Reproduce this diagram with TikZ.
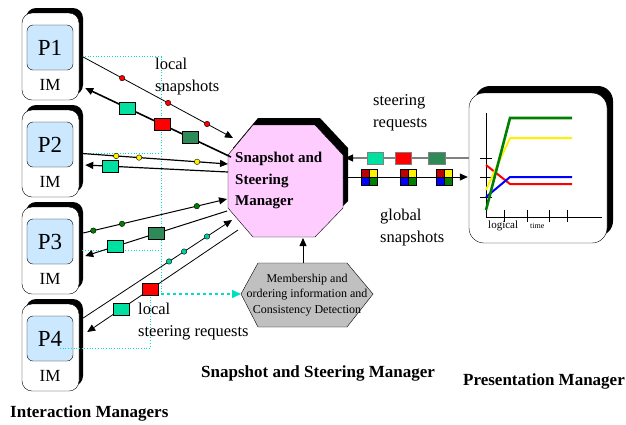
\documentclass[tikz,border=0pt]{standalone}
\usepackage{fontspec}
\setmainfont{Liberation Serif}
\usetikzlibrary{arrows.meta,shadows}

\definecolor{procblue}{RGB}{204,232,255}
\definecolor{ssmpink}{RGB}{255,204,255}
\definecolor{hexgray}{RGB}{192,192,192}
\definecolor{msgteal}{RGB}{0,224,160}
\definecolor{msggreen}{RGB}{46,139,87}
\definecolor{dotgreen}{RGB}{0,128,0}
\definecolor{dotteal}{RGB}{0,208,160}
\definecolor{guidecyan}{RGB}{0,224,192}
\definecolor{snapred}{RGB}{192,0,0}

\tikzset{
  arr/.style={-{Triangle[length=8pt,width=7pt]}},
  imframe/.style={draw, fill=white, rounded corners=10pt, minimum width=57pt,
    minimum height=87pt, inner sep=0pt,
    general shadow={fill=black, shadow xshift=4pt, shadow yshift=5pt}},
  procbox/.style={draw, fill=procblue, rounded corners=6pt, minimum width=46pt,
    minimum height=45pt, inner sep=0pt, font=\fontsize{23}{23}\selectfont},
  imtext/.style={inner sep=0pt, font=\fontsize{17}{17}\selectfont},
  msg/.style={draw, line width=0.5pt, minimum width=16pt, minimum height=12pt, inner sep=0pt},
  sdot/.style={circle, draw, line width=0.4pt, minimum size=5.5pt, inner sep=0pt},
  guide/.style={draw=guidecyan, dotted, line width=0.7pt},
  lbl/.style={font=\fontsize{16.5}{22}\selectfont, align=left, inner sep=0pt, anchor=north west},
  title/.style={font=\bfseries\fontsize{17}{20}\selectfont, inner sep=0pt, anchor=base west},
  gsnap/.pic={
    \draw[fill=snapred, line width=0.4pt] (-8,-8) rectangle (0,0);
    \draw[fill=yellow, line width=0.4pt] (0,-8) rectangle (8,0);
    \draw[fill=blue, line width=0.4pt] (-8,0) rectangle (0,8);
    \draw[fill=dotgreen, line width=0.4pt] (0,0) rectangle (8,8);
  }
}

\begin{document}
\begin{tikzpicture}[x=1pt,y=-1pt]
\useasboundingbox (0,0) rectangle (626,424);

% interaction managers
\foreach \i in {1,...,4} {
  \pgfmathsetmacro\t{13+97*(\i-1)}
  \node[imframe] (im\i) at (50.5,\t+43.5) {};
  \node[procbox] (p\i) at (50,\t+34.5) {P\i};
  \node[imtext] (iml\i) at (50,\t+72) {IM};
}

% snapshot and steering manager
\draw[fill=ssmpink, general shadow={fill=black, shadow xshift=5pt, shadow yshift=7pt}]
  (253,125) -- (315,125) -- (343,155) -- (343,208) -- (315,237) -- (253,237)
  -- (228,208) -- (228,155) -- cycle;
\node[font=\bfseries\fontsize{15}{21.5}\selectfont, align=left, inner sep=0pt,
  anchor=north west] (ssm) at (235,152) {Snapshot and\\Steering\\Manager};

\draw[fill=hexgray] (241,294) -- (258,263) -- (347,263) -- (373,294) -- (347,327)
  -- (258,327) -- cycle;
\node[font=\fontsize{12}{15.5}\selectfont, align=center, inner sep=0pt] (mocd) at (307,295)
  {Membership and\\ordering information and\\Consistency Detection};

% presentation manager
\node[draw, fill=white, rounded corners=15pt, minimum width=138pt, minimum height=150pt,
  general shadow={fill=black, shadow xshift=6pt, shadow yshift=7pt}] (pm) at (538,168) {};
\draw (486,113) -- (486,217) -- (602,217);
\foreach \x in {504,527,549,567} \draw (\x,210) -- (\x,222);
\foreach \y in {158,177,197} \draw (480,\y) -- (492,\y);
\draw[red, line width=2pt] (486,165) -- (510,184) -- (572,184);
\draw[blue, line width=2pt] (486,197) -- (510,177) -- (572,177);
\draw[yellow, line width=2pt] (486,190) -- (510,138) -- (572,138);
\draw[dotgreen, line width=2.6pt] (486,210) -- (510,118) -- (572,118);
\node[font=\fontsize{11}{11}\selectfont, inner sep=0pt, anchor=base west] (logl) at (488,228) {logical};
\node[font=\fontsize{8}{8}\selectfont, inner sep=0pt, anchor=base west] (timel) at (530,228) {time};

% ends at the manager
\coordinate (snap1) at (233,138);
\coordinate (steer1) at (231,157);
\coordinate (snap2) at (228,164);
\coordinate (steer2) at (228,172);
\coordinate (snap3) at (227,199);
\coordinate (steer3) at (227,211);
\coordinate (snap4) at (232,220);
\coordinate (steer4) at (238,230);
\coordinate (srin) at (345,158);
\coordinate (gsout) at (343,177);
\coordinate (octbot) at (303,238);
\coordinate (hextop) at (303,263);
\coordinate (hexleft) at (241,294);
\coordinate (gcorner) at (161,294);

% guide lines
\draw[guide] ([xshift=3pt]im1.east) -| (gcorner);
\draw[guide] ([xshift=3pt]im2.east) -- (im2.east -| gcorner);
\draw[guide] ([xshift=3pt]im3.east) -- (im3.east -| gcorner);
\draw[draw=guidecyan, dashed, line width=1.2pt, -{Triangle[length=9pt,width=8pt]}] (gcorner) -- (hexleft);

% local snapshots and steering requests
\draw[arr, line width=0.8pt] ([xshift=3pt]im1.east) -- (snap1)
  node[sdot, fill=red, pos=.265] (r1) {}
  node[sdot, fill=red, pos=.57] (r2) {}
  node[sdot, fill=red, pos=.828] (r3) {};
\draw[arr, line width=1.6pt] (steer1) -- ([shift={(6,31.5)}]im1.east)
  node[msg, fill=msggreen, pos=.281] (s13) {}
  node[msg, fill=red, pos=.473] (s12) {}
  node[msg, fill=msgteal, pos=.712] (s11) {};
\draw[arr, line width=1.2pt] ([xshift=3pt]im2.east) -- (snap2)
  node[sdot, fill=yellow, pos=.233] (y1) {}
  node[sdot, fill=yellow, pos=.39] (y2) {}
  node[sdot, fill=yellow, pos=.788] (y3) {};
\draw[arr, line width=1.2pt] (steer2) -- ([shift={(6,11.5)}]im2.east)
  node[msg, fill=msgteal, pos=.825] (s21) {};
\draw[arr, line width=1pt] ([shift={(4,-17.5)}]im3.east) -- (snap3)
  node[sdot, fill=dotgreen, pos=.07] (g1) {}
  node[sdot, fill=dotgreen, pos=.27] (g2) {}
  node[sdot, fill=dotgreen, pos=.79] (g3) {};
\draw[arr, line width=1pt] (steer3) -- ([shift={(6,5.5)}]im3.east)
  node[msg, fill=msggreen, pos=.5] (s32) {}
  node[msg, fill=msgteal, pos=.79] (s31) {};
\draw[arr, line width=0.8pt] ([shift={(4,-29.5)}]im4.east) -- (snap4)
  node[sdot, fill=dotteal, pos=.577] (t1) {}
  node[sdot, fill=dotteal, pos=.678] (t2) {}
  node[sdot, fill=dotteal, pos=.832] (t3) {};
\draw[arr, line width=0.8pt] (steer4) -- ([shift={(8,-15.5)}]im4.east)
  node[msg, fill=red, pos=.583] (s41) {}
  node[msg, fill=msgteal, pos=.775] (s42) {};
\draw[guide] ([shift={(10,9.5)}]p4.center) -| (s41.south);

% to and from the presentation manager
\draw[gray, line width=1.2pt, -{Triangle[length=8pt,width=7pt,color=black]}]
  ([shift={(0,-10)}]pm.west) -- (srin)
  node[msg, fill=msggreen, minimum width=17pt, pos=.258] (s53) {}
  node[msg, fill=red, pos=.532] (s52) {}
  node[msg, fill=msgteal, pos=.758] (s51) {};
\draw[arr, line width=0.8pt] (gsout) -- ([shift={(-1,9)}]pm.west);
\pic at (369.5,177) {gsnap};
\pic at (408.5,177) {gsnap};
\pic at (444,177) {gsnap};
\draw[arr, line width=0.8pt] (hextop) -- (octbot);

% labels
\node[lbl] (lsnap) at (155,58) {local\\snapshots};
\node[lbl] (sreq) at (373,94) {steering\\requests};
\node[lbl] (gsn) at (380,209) {global\\snapshots};
\node[lbl] (lsreq) at (138,303) {local\\steering requests};
\node[title] (imt) at (10,417) {Interaction Managers};
\node[title] (ssmt) at (201,377) {Snapshot and Steering Manager};
\node[title] (pmt) at (463,385) {Presentation Manager};
\end{tikzpicture}
\end{document}
